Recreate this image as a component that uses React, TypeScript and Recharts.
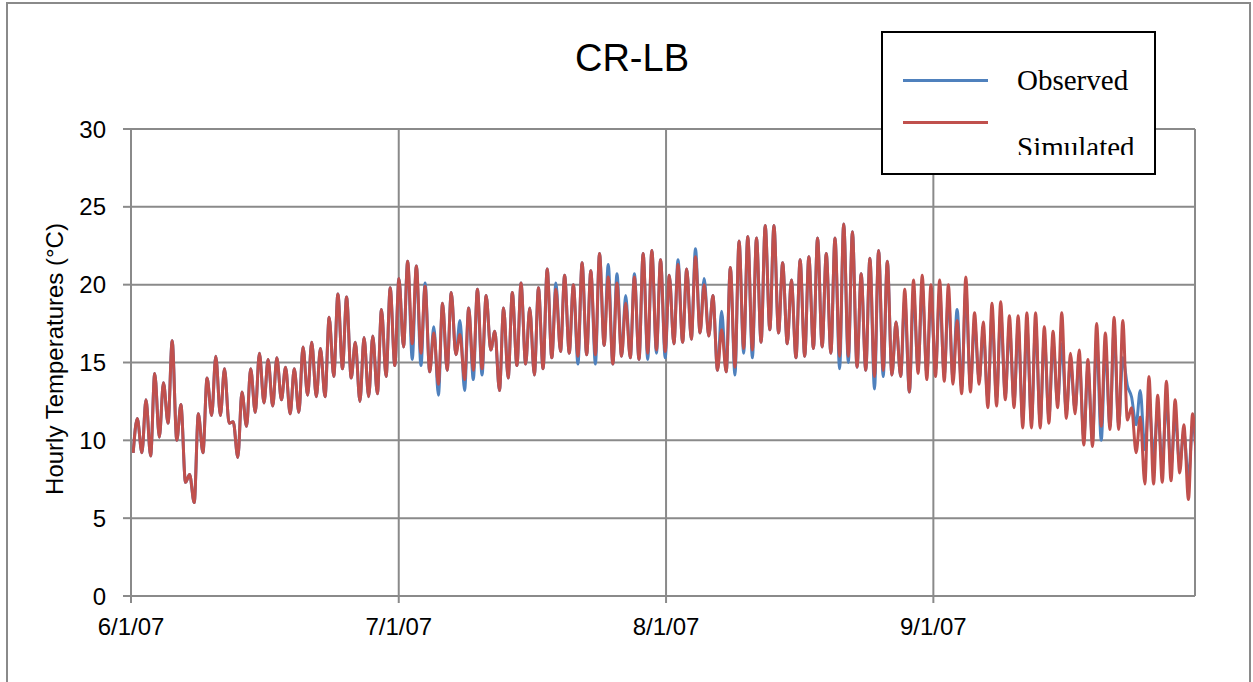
import React from 'react';
import { LineChart, Line, XAxis, YAxis, CartesianGrid } from 'recharts';

const chartTitle = 'CR-LB';
const yAxisTitle = 'Hourly Temperatures (°C)';
const seriesNames = ['Observed', 'Simulated'];

// positions (days from 6/1/07 on the axis) of the date labels, as placed in the picture
const dateTicks = [0, 30.7, 61.35, 92];
const dateLabels = ['6/1/07', '7/1/07', '8/1/07', '9/1/07'];
const tempTicks = [0, 5, 10, 15, 20, 25, 30];

// daily minimum / maximum hourly temperature (°C)
const simMin = [
  9.2, 9.2, 9.0, 10.2, 11.1, 10.0, 7.3, 6.0, 9.2, 11.6,
  11.6, 11.1, 8.9, 10.9, 11.8, 12.4, 12.2, 12.6, 11.7, 11.8,
  12.9, 12.8, 12.8, 14.1, 14.6, 14.0, 12.5, 12.8, 13.0, 14.1,
  14.8, 16.0, 16.2, 15.6, 14.4, 13.6, 14.5, 15.5, 13.9, 14.5,
  14.6, 15.8, 13.2, 14.0, 14.8, 14.9, 14.2, 14.6, 15.3, 15.7,
  15.6, 15.4, 15.5, 15.5, 16.1, 14.9, 15.4, 15.3, 15.2, 15.6,
  15.8, 15.7, 16.2, 16.3, 16.5, 16.9, 16.7, 14.5, 14.4, 14.7,
  15.9, 15.8, 16.3, 17.1, 16.9, 16.2, 15.3, 15.4, 15.9, 16.0,
  15.6, 15.4, 15.4, 14.7, 14.5, 14.1, 14.5, 14.2, 14.1, 13.1,
  14.3, 13.9, 14.1, 13.8, 13.6, 13.0, 13.1, 13.6, 12.1, 12.2,
  12.6, 12.1, 10.8, 10.8, 10.8, 11.1, 12.1, 11.4, 11.7, 9.7,
  9.6, 10.9, 10.7, 10.7, 11.3, 9.2, 7.2, 7.2, 7.3, 7.4,
  7.9, 6.2, 7.5,
];
const simMax = [
  11.4, 12.6, 14.3, 13.7, 16.4, 12.3, 7.8, 11.7, 14.0, 15.4,
  14.6, 11.2, 13.1, 14.6, 15.6, 15.2, 15.3, 14.7, 14.6, 16.0,
  16.3, 15.9, 17.9, 19.4, 19.2, 16.3, 16.6, 16.7, 18.4, 19.8,
  20.4, 21.5, 21.2, 19.9, 16.9, 18.8, 19.5, 16.8, 18.5, 19.7,
  19.3, 17.0, 18.5, 19.5, 20.1, 18.5, 19.8, 21.0, 19.7, 20.6,
  20.0, 21.4, 20.9, 22.0, 20.5, 20.1, 18.8, 20.5, 22.0, 22.2,
  21.6, 20.6, 21.3, 21.0, 21.8, 20.0, 19.3, 17.1, 21.1, 22.8,
  23.1, 23.0, 23.8, 23.8, 21.4, 20.3, 21.6, 21.8, 23.0, 22.0,
  23.0, 23.9, 23.4, 20.7, 21.7, 22.2, 21.5, 17.6, 19.7, 20.3,
  20.6, 20.0, 20.3, 20.0, 17.7, 20.5, 18.2, 17.6, 18.8, 18.9,
  18.0, 18.0, 18.2, 18.2, 17.3, 17.0, 18.2, 15.6, 15.8, 15.2,
  17.5, 16.9, 17.9, 17.7, 12.1, 11.5, 14.1, 12.9, 13.8, 12.6,
  11.0, 11.7,
];
const obsMin = [
  9.2, 9.2, 9.0, 10.2, 11.1, 10.0, 7.3, 6.0, 9.2, 11.6,
  11.6, 11.1, 8.9, 10.9, 11.8, 12.4, 12.2, 12.6, 11.7, 11.8,
  12.9, 12.8, 12.8, 14.1, 14.6, 14.0, 12.5, 12.8, 13.0, 14.1,
  14.8, 16.0, 15.2, 14.8, 14.4, 12.9, 14.5, 15.5, 13.2, 13.9,
  14.2, 15.8, 13.2, 14.0, 14.8, 14.9, 14.2, 14.6, 15.3, 15.7,
  15.6, 14.9, 15.5, 14.9, 16.1, 14.9, 15.4, 15.3, 15.2, 15.2,
  15.6, 15.3, 16.2, 16.3, 16.5, 16.9, 16.7, 14.5, 14.4, 14.2,
  15.6, 15.3, 16.3, 17.1, 16.9, 16.2, 15.3, 15.4, 15.9, 16.0,
  15.6, 14.6, 15.0, 14.7, 14.5, 13.3, 14.1, 14.2, 14.1, 13.1,
  14.6, 14.3, 14.5, 14.2, 14.0, 13.4, 13.5, 13.9, 12.6, 12.7,
  12.9, 12.5, 11.3, 11.2, 11.2, 11.5, 12.4, 11.8, 12.0, 10.2,
  10.0, 10.0, 10.9, 11.0, 13.5, 11.0, 9.4, 9.0, 8.5, 8.3,
  8.5, 7.5, 8.0,
];
const obsMax = [
  11.4, 12.6, 14.3, 13.7, 16.4, 12.3, 7.8, 11.7, 14.0, 15.4,
  14.6, 11.2, 13.1, 14.6, 15.6, 15.2, 15.3, 14.7, 14.6, 16.0,
  16.3, 15.9, 17.9, 19.4, 19.2, 16.3, 16.6, 16.7, 18.4, 19.8,
  20.4, 21.5, 21.2, 20.1, 17.3, 18.8, 19.5, 17.7, 18.5, 19.7,
  19.3, 17.0, 18.5, 19.5, 20.1, 18.5, 19.8, 21.0, 20.1, 20.6,
  20.0, 21.4, 20.9, 22.0, 21.3, 20.7, 19.3, 20.7, 22.0, 22.2,
  21.6, 20.6, 21.6, 21.0, 22.3, 20.4, 19.3, 18.3, 21.1, 22.8,
  23.1, 23.0, 23.8, 23.8, 21.4, 20.3, 21.6, 21.8, 23.0, 22.0,
  23.0, 23.9, 23.4, 20.7, 21.7, 22.2, 21.5, 17.6, 19.0, 19.4,
  19.8, 19.2, 19.5, 19.2, 18.4, 19.6, 17.5, 17.0, 18.0, 18.1,
  17.3, 17.2, 17.3, 17.4, 16.6, 16.3, 16.2, 15.0, 15.2, 14.6,
  16.5, 16.0, 17.0, 15.3, 12.8, 13.2, 12.5, 11.8, 12.5, 11.5,
  10.5, 11.0,
];

// time of day (fraction of day) when the minimum and maximum occur
const MIN_TIME = 0.25;
const MAX_TIME = 0.72;

const data: { t: number; obs: number; sim: number }[] = [];
for (let d = 0; d < simMin.length; d++) {
  data.push({ t: d + MIN_TIME, obs: obsMin[d], sim: simMin[d] });
  if (d < simMax.length) data.push({ t: d + MAX_TIME, obs: obsMax[d], sim: simMax[d] });
}

const GRID = '#8a8a8a';
const SANS = "'Liberation Sans', Arial, sans-serif";
const SERIF = "'Liberation Serif', 'Times New Roman', serif";
const BLUE = '#4F81BD';
const RED = '#C0504D';

export default function App() {
  return (
    <div style={{ position: 'fixed', left: 0, top: 0, width: 1253, height: 682, overflow: 'hidden', background: '#fff' }}>
      <div style={{ position: 'absolute', left: 6, top: 2, width: 1245, height: 720, border: `2px solid ${GRID}`, boxSizing: 'border-box' }} />
      <div style={{ position: 'absolute', left: 0, top: 0 }}>
        <LineChart width={1253} height={682} data={data} margin={{ top: 129, right: 58, bottom: 0, left: 0 }}>
          <CartesianGrid stroke={GRID} strokeWidth={2} />
          <XAxis
            type="number"
            dataKey="t"
            domain={[0, 122]}
            allowDataOverflow
            ticks={dateTicks}
            interval={0}
            tickFormatter={(v: number) => dateLabels[dateTicks.indexOf(v)] ?? ''}
            height={86}
            tickSize={7}
            tickMargin={15}
            axisLine={{ stroke: GRID, strokeWidth: 2 }}
            tickLine={{ stroke: GRID, strokeWidth: 2 }}
            tick={{ fill: '#000', fontSize: 24, fontFamily: SANS }}
          />
          <YAxis
            type="number"
            domain={[0, 30]}
            ticks={tempTicks}
            interval={0}
            width={131}
            tickSize={8}
            tickMargin={17}
            axisLine={{ stroke: GRID, strokeWidth: 2 }}
            tickLine={{ stroke: GRID, strokeWidth: 2 }}
            tick={{ fill: '#000', fontSize: 24, fontFamily: SANS }}
          />
          <Line dataKey="obs" name={seriesNames[0]} type="monotone" stroke={BLUE} strokeWidth={3} dot={false} isAnimationActive={false} />
          <Line dataKey="sim" name={seriesNames[1]} type="monotone" stroke={RED} strokeWidth={3} dot={false} isAnimationActive={false} />
        </LineChart>
      </div>
      <div style={{ position: 'absolute', left: 532, top: 39, width: 200, textAlign: 'center', fontFamily: SANS, fontSize: 38, lineHeight: '38px', color: '#000' }}>
        {chartTitle}
      </div>
      <div style={{ position: 'absolute', left: 55 - 200, top: 359 - 12, width: 400, height: 24, textAlign: 'center', fontFamily: SANS, fontSize: 24, lineHeight: '24px', color: '#000', transform: 'rotate(-90deg)', transformOrigin: '50% 50%', whiteSpace: 'nowrap' }}>
        {yAxisTitle}
      </div>
      <div style={{ position: 'absolute', left: 881, top: 31, width: 275, height: 144, border: '2px solid #000', background: '#fff', boxSizing: 'border-box' }}>
        <div style={{ position: 'absolute', left: 0, top: 0, width: 271, height: 122, overflow: 'hidden' }}>
          <div style={{ position: 'absolute', left: 20, top: 46, width: 85, height: 3, background: BLUE }} />
          <div style={{ position: 'absolute', left: 20, top: 88, width: 85, height: 2.5, background: RED }} />
          <div style={{ position: 'absolute', left: 134, top: 33, fontFamily: SERIF, fontSize: 29, lineHeight: '29px', color: '#000', whiteSpace: 'nowrap' }}>{seriesNames[0]}</div>
          <div style={{ position: 'absolute', left: 134, top: 100, fontFamily: SERIF, fontSize: 29, lineHeight: '29px', color: '#000', whiteSpace: 'nowrap' }}>{seriesNames[1]}</div>
        </div>
      </div>
    </div>
  );
}
